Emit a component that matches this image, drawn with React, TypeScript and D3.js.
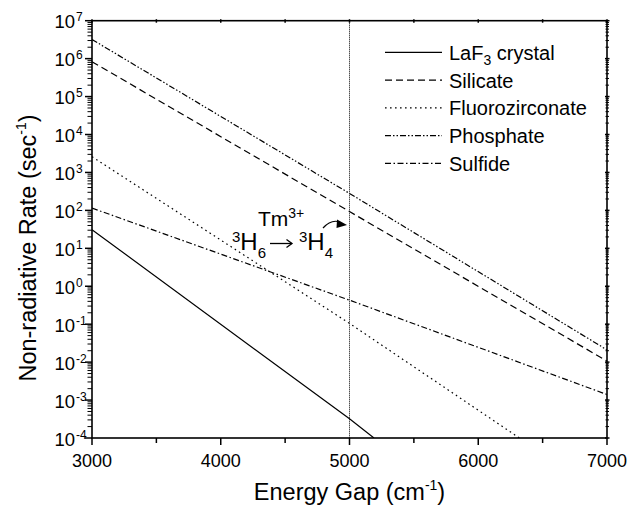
import React from "react";
import * as d3 from "d3";

// Energy gap (cm^-1) points and non-radiative rates (sec^-1)
const laf3Energy = [3000, 5000, 5190];
const laf3Rate = [31, 3.2e-4, 1e-4];
const silicateEnergy = [3000, 5000, 7000];
const silicateRate = [8.3e5, 93, 1.07e-2];
const fluoroEnergy = [3000, 5000, 6320];
const fluoroRate = [2600, 0.105, 1e-4];
const phosphateEnergy = [3000, 5000, 7000];
const phosphateRate = [3.2e6, 280, 2.1e-2];
const sulfideEnergy = [3000, 5000, 7000];
const sulfideRate = [115, 0.43, 1.4e-3];

const seriesNames = ["LaF3 crystal", "Silicate", "Fluorozirconate", "Phosphate", "Sulfide"];
const xTicks = [3000, 4000, 5000, 6000, 7000];
const xMinorTicks = [3500, 4500, 5500, 6500];
const yExponents = [7, 6, 5, 4, 3, 2, 1, 0, -1, -2, -3, -4];
const markerEnergy = 5000;

const W = 628, H = 512;
const L = 92, R = 607, T = 20.7, B = 438;

export default function App() {
  const x = d3.scaleLinear().domain([3000, 7000]).range([L, R]);
  const y = d3.scaleLog().domain([1e-4, 1e7]).range([B, T]);
  const line = d3.line<[number, number]>().x(d => x(d[0])).y(d => y(d[1]));

  const series = [
    { e: laf3Energy, r: laf3Rate, dash: "none" },
    { e: silicateEnergy, r: silicateRate, dash: "7,4" },
    { e: fluoroEnergy, r: fluoroRate, dash: "1.6,3.4" },
    { e: phosphateEnergy, r: phosphateRate, dash: "6,2,1.5,2,1.5,2" },
    { e: sulfideEnergy, r: sulfideRate, dash: "6,2.5,1.5,2.5" },
  ];

  const minorY: number[] = [];
  for (let p = -4; p < 7; p++) for (let k = 2; k <= 9; k++) minorY.push(k * Math.pow(10, p));

  const font = "'Liberation Sans', Arial, Helvetica, sans-serif";
  const legendY0 = 52.3, legendDY = 27.75;

  return (
    <svg width={W} height={H} style={{ position: "absolute", left: 0, top: 0, background: "#fff" }} fontFamily={font}>
      <rect x={0} y={0} width={W} height={H} fill="#fff" />
      <defs>
        <clipPath id="plot"><rect x={L} y={T} width={R - L} height={B - T} /></clipPath>
      </defs>
      {/* vertical marker */}
      <line x1={x(markerEnergy)} x2={x(markerEnergy)} y1={T} y2={B} stroke="#000" strokeWidth={1} strokeDasharray="1,1" />
      {/* series */}
      <g clipPath="url(#plot)">
        {series.map((s, i) => (
          <path key={i} d={line(s.e.map((e, j) => [e, s.r[j]] as [number, number])) || ""} fill="none" stroke="#000" strokeWidth={1.2} strokeDasharray={s.dash} />
        ))}
      </g>
      {/* frame */}
      <rect x={L} y={T} width={R - L} height={B - T} fill="none" stroke="#000" strokeWidth={1.6} />
      {/* x ticks */}
      {xTicks.map(t => (
        <g key={t}>
          <line x1={x(t)} x2={x(t)} y1={B} y2={B + 7} stroke="#000" strokeWidth={1.5} />
          <line x1={x(t)} x2={x(t)} y1={T - 1.5} y2={T + 2} stroke="#000" strokeWidth={1.5} />
          <text x={x(t)} y={467} textAnchor="middle" fontSize={18}>{t}</text>
        </g>
      ))}
      {xMinorTicks.map(t => (
        <g key={t}>
          <line x1={x(t)} x2={x(t)} y1={B} y2={B + 5} stroke="#000" strokeWidth={1.5} />
          <line x1={x(t)} x2={x(t)} y1={T - 1.5} y2={T + 2} stroke="#000" strokeWidth={1.5} />
        </g>
      ))}
      {/* y ticks */}
      {yExponents.map(p => {
        const yy = y(Math.pow(10, p));
        return (
          <g key={p}>
            <line x1={L - 7} x2={L} y1={yy} y2={yy} stroke="#000" strokeWidth={1.5} />
            <line x1={R - 2} x2={R + 2.5} y1={yy} y2={yy} stroke="#000" strokeWidth={1.5} />
            <text x={75} y={yy + 7.5} textAnchor="end" fontSize={18.5}>10</text>
            <text x={76} y={yy + 0.5} textAnchor="start" fontSize={12}>{String(p)}</text>
          </g>
        );
      })}
      {minorY.map((v, i) => {
        const yy = y(v);
        return (
          <g key={"m" + i}>
            <line x1={L - 4.5} x2={L} y1={yy} y2={yy} stroke="#000" strokeWidth={1} />
            <line x1={R - 1.5} x2={R + 2} y1={yy} y2={yy} stroke="#000" strokeWidth={1} />
          </g>
        );
      })}
      {/* axis titles */}
      <text x={(L + R) / 2} y={500} textAnchor="middle" fontSize={23.5}>
        Energy Gap (cm<tspan fontSize={14} dy={-10}>-1</tspan><tspan dy={10}>)</tspan>
      </text>
      <text transform={`translate(36,248) rotate(-90)`} textAnchor="middle" fontSize={23.5}>
        Non-radiative Rate (sec<tspan fontSize={14} dy={-10}>-1</tspan><tspan dy={10}>)</tspan>
      </text>
      {/* legend */}
      {series.map((s, i) => {
        const ly = legendY0 + i * legendDY;
        return (
          <g key={"lg" + i}>
            <line x1={385} x2={442} y1={ly} y2={ly} stroke="#000" strokeWidth={1.2} strokeDasharray={s.dash} />
            {i === 0 ? (
              <text x={449} y={ly + 7.5} fontSize={20}>
                LaF<tspan fontSize={14} dy={5}>3</tspan><tspan dy={-5}> crystal</tspan>
              </text>
            ) : (
              <text x={449} y={ly + 7.5} fontSize={20}>{seriesNames[i]}</text>
            )}
          </g>
        );
      })}
      {/* annotation */}
      <text x={258} y={226} fontSize={21}>
        Tm<tspan fontSize={14} dy={-8}>3+</tspan>
      </text>
      <text x={232} y={250} fontSize={24}>
        <tspan fontSize={15} dy={-8}>3</tspan><tspan dy={8}>H</tspan><tspan fontSize={15} dy={8}>6</tspan>
      </text>
      <line x1={270} x2={292} y1={243.5} y2={243.5} stroke="#000" strokeWidth={1.3} />
      <path d="M286.5,239.5 L292,243.5 L286.5,247.5" fill="none" stroke="#000" strokeWidth={1.3} />
      <text x={299} y={250} fontSize={24}>
        <tspan fontSize={15} dy={-8}>3</tspan><tspan dy={8}>H</tspan><tspan fontSize={15} dy={8}>4</tspan>
      </text>
      <path d="M323,228 Q331,219 340,222" fill="none" stroke="#000" strokeWidth={1.2} />
      <path d="M347,225 L337,219.5 L336.5,228 Z" fill="#000" />
    </svg>
  );
}
